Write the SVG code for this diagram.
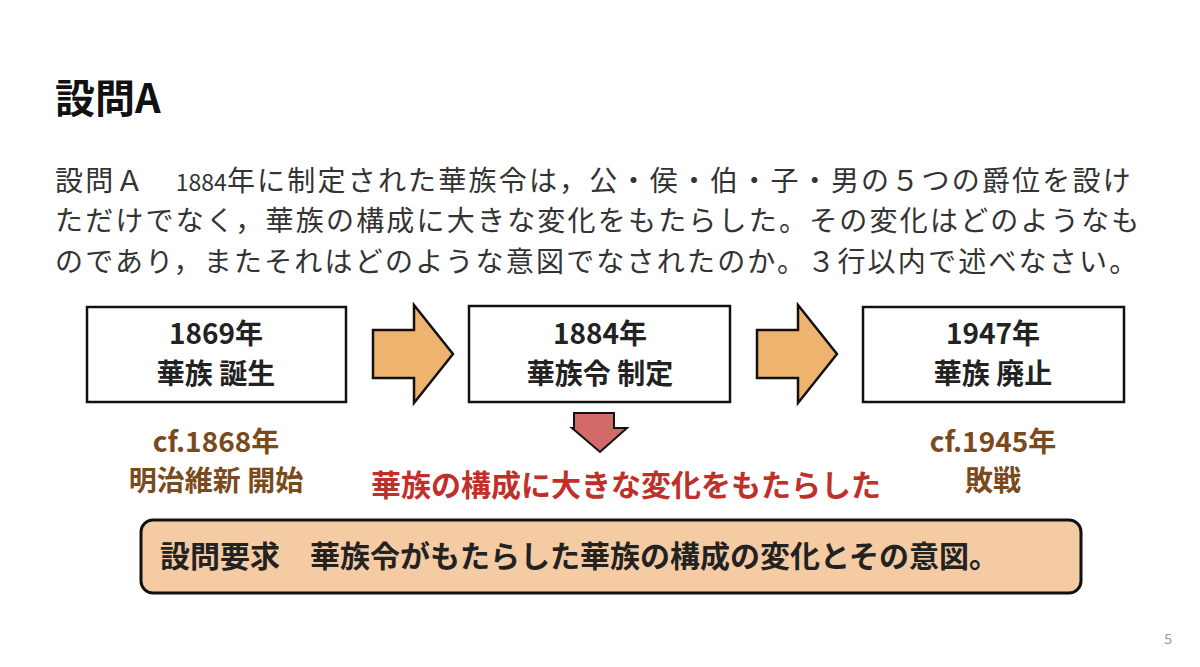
<svg xmlns="http://www.w3.org/2000/svg" width="1200" height="667" viewBox="0 0 1200 667">
<style>
text{font-family:"Noto Sans CJK JP","Noto Sans",sans-serif}
.box{fill:#fff;stroke:#111;stroke-width:2.5}
.bt{font-size:28px;font-weight:bold;fill:#222;text-anchor:middle}
.arr{fill:#eeb36e;stroke:#111;stroke-width:2.5;stroke-linejoin:miter}
.br{font-size:28px;font-weight:bold;fill:#7a4a1c;text-anchor:middle}
.body{font-size:28px;fill:#333;letter-spacing:2.2px}
</style>
<rect width="1200" height="667" fill="#fff"/>
<text x="55" y="113" font-size="40" font-weight="bold" fill="#111">設問A</text>
<text class="body" x="55" y="191">設問Ａ　<tspan font-size="23" letter-spacing="0">1884</tspan>年に制定された華族令は，公・侯・伯・子・男の５つの爵位を設け</text>
<text class="body" x="55" y="231">ただけでなく，華族の構成に大きな変化をもたらした。その変化はどのようなも</text>
<text class="body" x="55" y="272">のであり，またそれはどのような意図でなされたのか。３行以内で述べなさい。</text>
<g id="n1"><rect class="box" x="87" y="307" width="259" height="95"/><text class="bt" x="216" y="344">1869年</text><text class="bt" x="216" y="384">華族 誕生</text></g>
<g id="n2"><rect class="box" x="469" y="306" width="261" height="96"/><text class="bt" x="600" y="344">1884年</text><text class="bt" x="600" y="384">華族令 制定</text></g>
<g id="n3"><rect class="box" x="863" y="307" width="261" height="95"/><text class="bt" x="993" y="344">1947年</text><text class="bt" x="993" y="384">華族 廃止</text></g>
<g id="connectors">
<path class="arr" d="M373 330H414V305L453 354L414 403V378H373Z"/>
<path class="arr" d="M757 330H798V305L837 354L798 403V378H757Z"/>
<path d="M574 413H614V428H627L600 452L572 428H574Z" fill="#d26a6a" stroke="#111" stroke-width="2"/>
</g>
<g id="n4"><text class="br" x="216" y="452">cf.1868年</text><text class="br" x="216" y="491">明治維新 開始</text></g>
<g id="n5"><text x="626" y="496" font-size="30" font-weight="bold" fill="#c0302a" text-anchor="middle">華族の構成に大きな変化をもたらした</text></g>
<g id="n6"><text class="br" x="993" y="452">cf.1945年</text><text class="br" x="993" y="491">敗戦</text></g>
<g id="n7"><rect x="141" y="520" width="940" height="73" rx="12" fill="#f5cba3" stroke="#111" stroke-width="3"/><text x="160" y="567" font-size="30" font-weight="bold" fill="#222">設問要求　華族令がもたらした華族の構成の変化とその意図。</text></g>
<text x="1172" y="644" font-size="14" fill="#999" text-anchor="end">5</text>
</svg>
